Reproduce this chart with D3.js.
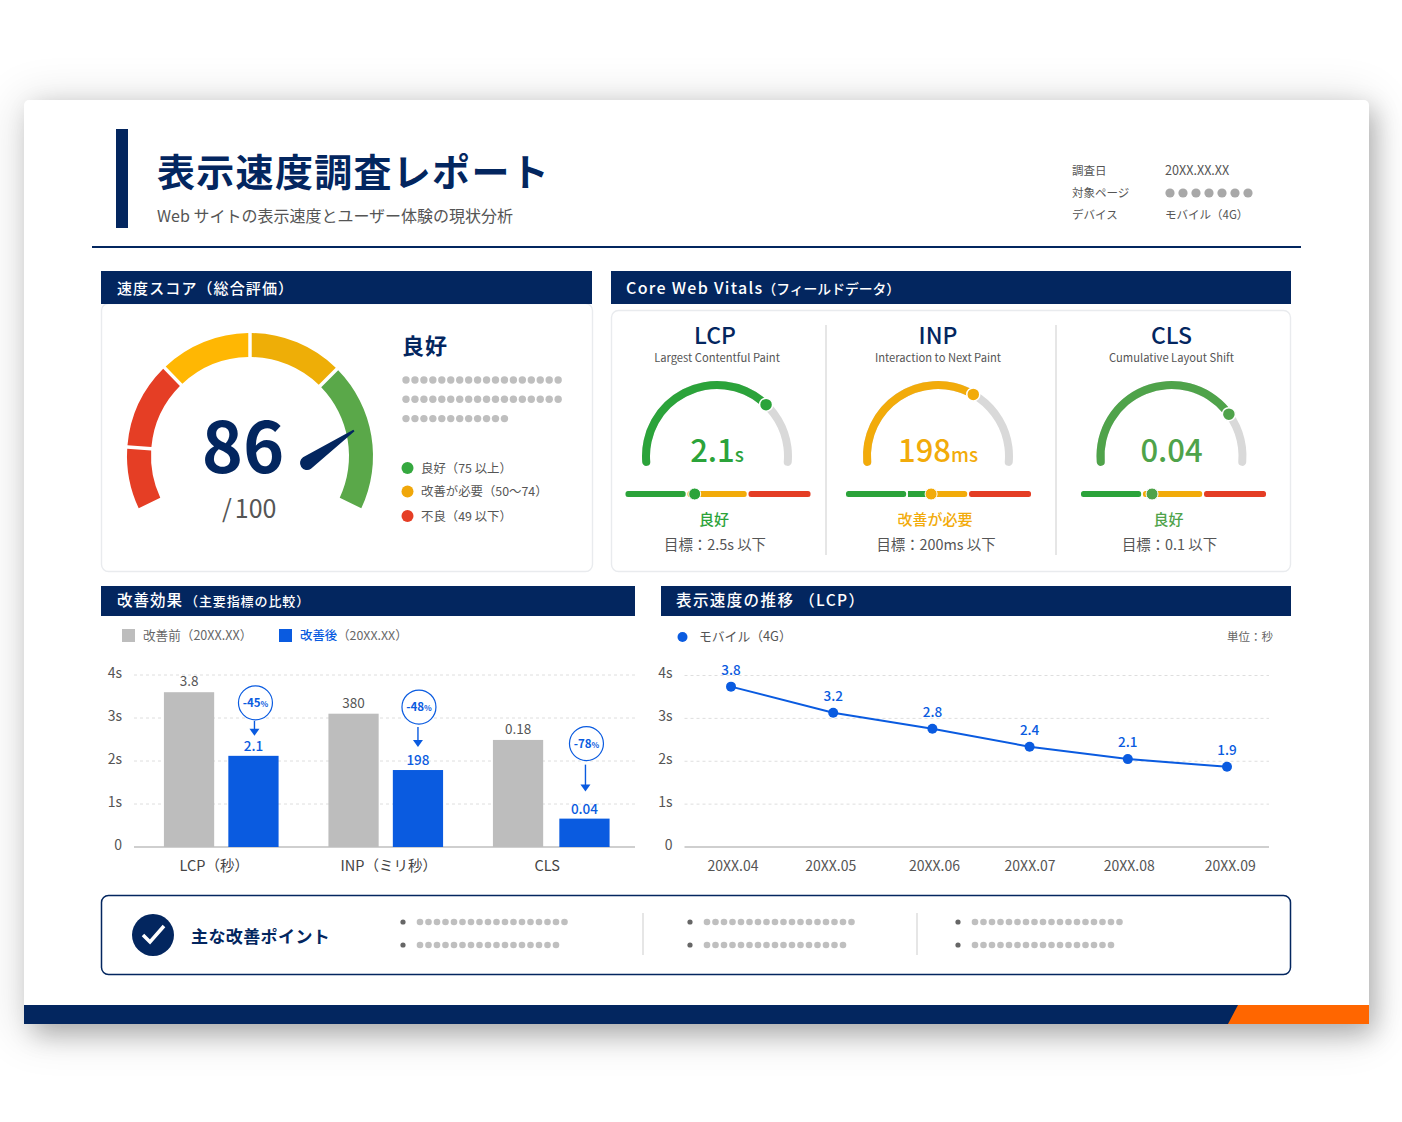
<!DOCTYPE html>
<html lang="ja"><head><meta charset="utf-8">
<script src="https://cdn.jsdelivr.net/npm/d3@7/dist/d3.min.js"></script>
<style>
html,body{margin:0;padding:0;background:#fff;width:1402px;height:1122px;overflow:hidden}
svg{display:block}
text{font-family:"Noto Sans CJK JP","Noto Sans",sans-serif}
</style></head><body><div id="chart"></div>
<script>
// ---- data ----
const title = "表示速度調査レポート";
const subtitle = "Web サイトの表示速度とユーザー体験の現状分析";
const metaLabels = ["調査日","対象ページ","デバイス"];
const metaValues = ["20XX.XX.XX",null,"モバイル（4G）"];
const score = 86;
const scoreStops = [0,13,31,50,75,100];
const scoreColors = ["#e53e25","#e53e25","#ffb703","#eeae07","#5aa849"];
const scoreLegend = ["良好（75 以上）","改善が必要（50～74）","不良（49 以下）"];
const scoreLegendColors = ["#35a83f","#f0a70a","#e53e25"];
const scoreDotRows = [18,18,12];
const cwvNames = ["LCP","INP","CLS"];
const cwvLong = ["Largest Contentful Paint","Interaction to Next Paint","Cumulative Layout Shift"];
const cwvValues = ["2.1","198","0.04"];
const cwvUnits = ["s","ms",""];
const cwvFill = [72.3,65.2,77.5];
const cwvBarPos = [37.4,46,38.4];
const cwvStatus = ["良好","改善が必要","良好"];
const cwvTargets = ["目標：2.5s 以下","目標：200ms 以下","目標：0.1 以下"];
const cwvColors = ["#2ba33a","#f2ab0a","#4fa34a"];
const barCats = ["LCP（秒）","INP（ミリ秒）","CLS"];
const barBefore = [3.6,3.1,2.49];
const barAfter = [2.12,1.79,0.66];
const beforeLabels = ["3.8","380","0.18"];
const afterLabels = ["2.1","198","0.04"];
const changes = ["-45","-48","-78"];
const lineMonths = ["20XX.04","20XX.05","20XX.06","20XX.07","20XX.08","20XX.09"];
const lineValues = [3.74,3.13,2.76,2.34,2.05,1.87];
const lineLabels = ["3.8","3.2","2.8","2.4","2.1","1.9"];
const axisTicks = [0,1,2,3,4];
const pointRows = [[18,17],[18,17],[18,17]];

// ---- layout ----
const NAVY="#03265f", BLUE="#0a5be0", GRAY="#555", DOT="#bfbfbf";
const svg=d3.select("#chart").append("svg").attr("width",1402).attr("height",1122);
const defs=svg.append("defs");
[["sh1",24],["sh2",13]].forEach(([id,s])=>{
  const f=defs.append("filter").attr("id",id).attr("x","-10%").attr("y","-15%").attr("width","120%").attr("height","130%");
  f.append("feGaussianBlur").attr("stdDeviation",s);
});
function txt(g,x,y,s,o={}){
  const t=g.append("text").attr("x",x).attr("y",y).text(s)
    .attr("font-size",o.size||12).attr("fill",o.fill||GRAY).attr("font-weight",o.weight||400)
    .attr("text-anchor",o.anchor||"start");
  if(o.ls)t.attr("letter-spacing",o.ls);
  return t;
}
function dots(g,x,y,n,step,r,c){
  g.append("g").selectAll("circle").data(d3.range(n)).join("circle")
   .attr("cx",i=>x+i*step).attr("cy",y).attr("r",r).attr("fill",c);
}
function header(x,y,w,h){svg.append("rect").attr("x",x).attr("y",y).attr("width",w).attr("height",h).attr("fill",NAVY);}
function panel(x,y,w,h){
  svg.append("rect").attr("x",x+.5).attr("y",y+.5).attr("width",w).attr("height",h).attr("rx",7)
   .attr("fill","#fff").attr("stroke","#e9ebee").attr("stroke-width",1.4);
}
// card
svg.append("rect").attr("x",20).attr("y",100).attr("width",1352).attr("height",934).attr("fill","#000").attr("opacity",.13).attr("filter","url(#sh1)");
svg.append("rect").attr("x",34).attr("y",110).attr("width",1340).attr("height",924).attr("fill","#000").attr("opacity",.26).attr("filter","url(#sh2)");
svg.append("rect").attr("x",24).attr("y",100).attr("width",1345).attr("height",924).attr("rx",5).attr("fill","#fff");
// heading
svg.append("rect").attr("x",116).attr("y",129).attr("width",12).attr("height",99).attr("fill",NAVY);
txt(svg,157,186,title,{size:38,weight:700,fill:NAVY,ls:1.3});
txt(svg,157,222,subtitle,{size:16,fill:"#555"});
svg.append("rect").attr("x",92).attr("y",246).attr("width",1209).attr("height",2).attr("fill",NAVY);
metaLabels.forEach((m,i)=>{
  const y=175+i*22;
  txt(svg,1072,y,m,{size:11.5,fill:"#555"});
  if(metaValues[i])txt(svg,1165,y,metaValues[i],{size:i?11.5:12.6,fill:"#555"});
  else dots(svg,1170,y-4,7,13,4.6,"#a8a8a8");
});

// score panel
panel(101,303,491,268);
header(101,271,491,33);
txt(svg,117,294,"速度スコア（総合評価）",{size:15,fill:"#fff",weight:500,ls:1.1});
const ang=d3.scaleLinear().domain([0,50,75,100]).range([-116,0,45,116].map(d=>d*Math.PI/180));
const gc={x:250,y:456};
const g0=svg.append("g").attr("transform",`translate(${gc.x},${gc.y})`);
const bigArc=d3.arc().innerRadius(99).outerRadius(123).padAngle(.022);
g0.selectAll("path.seg").data(scoreColors).join("path").attr("class","seg")
  .attr("d",(c,i)=>bigArc({startAngle:ang(scoreStops[i]),endAngle:ang(scoreStops[i+1])}))
  .attr("fill",c=>c);
txt(svg,243,473,String(score),{size:70,weight:600,fill:NAVY,anchor:"middle"});
const slash=txt(svg,222,518,"/",{size:25,fill:"#555"});
slash.append("tspan").attr("dx",3).text("100");
// needle
(function(){
  const a=ang(score), tip=[107*Math.sin(a),-107*Math.cos(a)], base=[57,7];
  const th=Math.atan2(tip[1]-base[1],tip[0]-base[0]), nx=-Math.sin(th), ny=Math.cos(th), w=7;
  const p=d3.path();
  p.moveTo(base[0]+nx*w,base[1]+ny*w);
  p.lineTo(tip[0]+nx*1,tip[1]+ny*1);
  p.lineTo(tip[0]-nx*1,tip[1]-ny*1);
  p.lineTo(base[0]-nx*w,base[1]-ny*w);
  p.arc(base[0],base[1],w,th-Math.PI/2,th-Math.PI*1.5,true);
  p.closePath();
  g0.append("path").attr("d",p.toString()).attr("fill",NAVY);
})();
txt(svg,402,354,"良好",{size:22,weight:700,fill:NAVY,ls:1});
scoreDotRows.forEach((n,i)=>dots(svg,406,380+i*19.3,n,8.95,3.7,DOT));
scoreLegend.forEach((s,i)=>{
  const y=[468,491.5,516][i];
  svg.append("circle").attr("cx",407.5).attr("cy",y).attr("r",6).attr("fill",scoreLegendColors[i]);
  txt(svg,421,y+4.5,s,{size:12.4,fill:"#555"});
});

// Core Web Vitals panel
panel(611,310,679,261);
header(611,271,680,33);
const h2=txt(svg,626,294,"Core Web Vitals",{size:16,fill:"#fff",weight:500,ls:1.3});
h2.append("tspan").attr("font-size",13.8).attr("letter-spacing",0).attr("dx",-1).text("（フィールドデータ）");
[826,1056].forEach(x=>svg.append("line").attr("x1",x).attr("x2",x).attr("y1",325).attr("y2",555).attr("stroke","#d5d5d5").attr("stroke-width",1.2));
const cwvCx=[717,938,1171.5], cwvBarX=[625.5,846,1081];
const fillAng=d3.scaleLinear().domain([0,100]).range([-98,98].map(d=>d*Math.PI/180));
const smallArc=d3.arc().innerRadius(67).outerRadius(75).cornerRadius(4);
const barW=d3.scaleLinear().domain([0,100]).range([0,185]);
const trackSeg=[[0,32.5,"#2ba33a"],[33.5,65.5,"#f2ab0a"],[66.5,100,"#e43d24"]];
cwvNames.forEach((n,i)=>{
  const cx=cwvCx[i], col=cwvColors[i];
  txt(svg,cx-2+(i?2:0),344,n,{size:23,weight:500,fill:NAVY,anchor:"middle"});
  txt(svg,cx,362,cwvLong[i],{size:11.2,fill:"#555",anchor:"middle"});
  const g=svg.append("g").attr("transform",`translate(${cx},456)`);
  g.append("path").attr("d",smallArc({startAngle:fillAng(0),endAngle:fillAng(100)})).attr("fill","#d9d9d9");
  g.append("path").attr("d",smallArc({startAngle:fillAng(0),endAngle:fillAng(cwvFill[i])})).attr("fill",col);
  const a=fillAng(cwvFill[i]);
  g.append("circle").attr("cx",71*Math.sin(a)).attr("cy",-71*Math.cos(a)).attr("r",6.5).attr("fill",col).attr("stroke","#fff").attr("stroke-width",1.5);
  const t=txt(svg,cx,462,cwvValues[i],{size:31,weight:500,fill:col,anchor:"middle"});
  if(cwvUnits[i])t.append("tspan").attr("font-size",19).text(cwvUnits[i]);
  const bx=cwvBarX[i];
  const bar=svg.append("g").attr("transform",`translate(${bx},491)`);
  bar.selectAll("rect").data(trackSeg).join("rect").attr("x",d=>barW(d[0])).attr("width",d=>barW(d[1]-d[0])).attr("height",6).attr("rx",2.5).attr("fill",d=>d[2]);
  if(i===1)bar.append("rect").attr("x",barW(33.5)).attr("width",barW(cwvBarPos[i]-33.5)).attr("height",6).attr("fill","#2ba33a");
  bar.append("circle").attr("cx",barW(cwvBarPos[i])).attr("cy",3).attr("r",6).attr("fill",col).attr("stroke","#fff").attr("stroke-width",1);
  txt(svg,cx-3,525,cwvStatus[i],{size:15,weight:500,fill:col,anchor:"middle"});
  txt(svg,cx-2,550,cwvTargets[i],{size:14.4,fill:"#555",anchor:"middle"});
});

// bar chart
header(101,586,534,30);
const h3=txt(svg,117,606,"改善効果",{size:15.5,fill:"#fff",weight:500,ls:1});
h3.append("tspan").attr("font-size",13).attr("letter-spacing",.9).attr("dx",2).text("（主要指標の比較）");
svg.append("rect").attr("x",122).attr("y",629).attr("width",13).attr("height",13).attr("fill","#bdbdbd");
txt(svg,143,640,"改善前（20XX.XX）",{size:12.6,fill:"#666"});
svg.append("rect").attr("x",279).attr("y",629).attr("width",13).attr("height",13).attr("fill",BLUE);
txt(svg,300,640,"改善後",{size:12.4,fill:BLUE,weight:500}).append("tspan").attr("fill","#666").attr("font-weight",400).text("（20XX.XX）");
const yB=d3.scaleLinear().domain([0,4]).range([847,675]);
const x0=d3.scaleBand().domain(barCats).range([139,632.5]).paddingInner(.303).paddingOuter(.1515);
const x1=d3.scaleBand().domain(["before","after"]).range([0,x0.bandwidth()]).paddingInner(.22);
function yAxis(y,x,right){
  const g=svg.append("g").attr("transform",`translate(${x},-2)`);
  g.call(d3.axisLeft(y).tickValues(axisTicks).tickSize(0).tickPadding(0).tickFormat(d=>d===0?"0":d+"s"));
  g.select(".domain").remove();
  g.selectAll("text").attr("font-size",14).attr("fill","#555").attr("font-family",'"Noto Sans CJK JP"');
  svg.append("g").selectAll("line").data(axisTicks.filter(d=>d>0)).join("line")
    .attr("x1",x+12).attr("x2",right).attr("y1",y).attr("y2",y)
    .attr("stroke","#dedede").attr("stroke-dasharray","3 3").attr("stroke-width",1);
  svg.append("line").attr("x1",x+12).attr("x2",right).attr("y1",y(0)).attr("y2",y(0)).attr("stroke","#cfcfcf").attr("stroke-width",2);
}
yAxis(yB,122,635);
const rise=[53,63,75], arrowTop=[18,20,21], arrowGap=[20,23,27];
barCats.forEach((c,i)=>{
  const gx=x0(c);
  const xb=gx+x1("before"), xa=gx+x1("after")+(i===2?2:0), w=x1.bandwidth();
  svg.append("rect").attr("x",xb).attr("y",yB(barBefore[i])).attr("width",w).attr("height",yB(0)-yB(barBefore[i])).attr("fill","#bdbdbd");
  const top=yB(barAfter[i]);
  svg.append("rect").attr("x",xa).attr("y",top).attr("width",w).attr("height",yB(0)-top).attr("fill",BLUE);
  txt(svg,xb+w/2,yB(barBefore[i])-6,beforeLabels[i],{size:13.5,fill:"#555",anchor:"middle"});
  txt(svg,xa+w/2,top-5,afterLabels[i],{size:13.5,weight:500,fill:BLUE,anchor:"middle"});
  const bx=xa+w/2+2-(i===1?1:0), by=top-rise[i];
  svg.append("circle").attr("cx",bx).attr("cy",by).attr("r",17).attr("fill","#fff").attr("stroke",BLUE).attr("stroke-width",1.2);
  const bt=txt(svg,bx,by+4,changes[i],{size:11.5,weight:700,fill:BLUE,anchor:"middle"});
  bt.append("tspan").attr("font-size",8).text("%");
  const ya=by+arrowTop[i], yb=top-arrowGap[i];
  svg.append("line").attr("x1",bx-1).attr("x2",bx-1).attr("y1",ya).attr("y2",yb-6).attr("stroke",BLUE).attr("stroke-width",1.4);
  svg.append("path").attr("d",d3.line()([[bx-6,yb-7],[bx+4,yb-7],[bx-1,yb]])).attr("fill",BLUE);
  txt(svg,x0(c)+x0.bandwidth()/2+[-7,3,-3][i],871,c,{size:14.5,fill:"#444",anchor:"middle"});
});

// line chart
header(661,586,630,30);
txt(svg,676,606,"表示速度の推移 （LCP）",{size:15.5,fill:"#fff",weight:500,ls:1.4});
svg.append("circle").attr("cx",682.5).attr("cy",637).attr("r",5).attr("fill",BLUE);
txt(svg,699,641,"モバイル（4G）",{size:12.8,fill:"#555"});
txt(svg,1273,641,"単位：秒",{size:11.5,fill:"#666",anchor:"end"});
const yL=d3.scaleLinear().domain([0,4]).range([847,675.5]);
const xL=d3.scalePoint().domain(lineMonths).range([731,1227]);
const pointNudge=[0,3,3,1,0,0], tickNudge=[1.5,0,4.6,1,1,2.7];
yAxis(yL,672.5,1269);
const pts=lineMonths.map((m,i)=>({m,i,v:lineValues[i],l:lineLabels[i]}));
const px=d=>xL(d.m)+pointNudge[d.i];
svg.append("path").attr("d",d3.line().x(px).y(d=>yL(d.v))(pts)).attr("fill","none").attr("stroke",BLUE).attr("stroke-width",2);
svg.append("g").selectAll("circle").data(pts).join("circle").attr("cx",px).attr("cy",d=>yL(d.v)).attr("r",5).attr("fill",BLUE);
svg.append("g").selectAll("text").data(pts).join("text").attr("x",px).attr("y",d=>yL(d.v)-12)
  .attr("text-anchor","middle").attr("font-size",13.5).attr("font-weight",500).attr("fill",BLUE).text(d=>d.l);
const xg=svg.append("g").attr("transform","translate(0,847)").call(d3.axisBottom(xL).tickSize(0).tickPadding(14));
xg.select(".domain").remove();
xg.selectAll("text").attr("font-size",14).attr("fill","#555").attr("font-family",'"Noto Sans CJK JP"').attr("dx",(d,i)=>tickNudge[i]);

// points box
svg.append("rect").attr("x",101.5).attr("y",895.5).attr("width",1189).attr("height",79).attr("rx",7).attr("fill","#fff").attr("stroke",NAVY).attr("stroke-width",1.5);
svg.append("circle").attr("cx",153).attr("cy",935).attr("r",21).attr("fill",NAVY);
svg.append("path").attr("d",d3.line()([[143,935],[150,942],[164,926]])).attr("fill","none").attr("stroke","#fff").attr("stroke-width",3.5);
txt(svg,191,943,"主な改善ポイント",{size:17,weight:700,fill:NAVY,ls:.4});
[403,690,958].forEach((bx,c)=>{
  pointRows[c].forEach((n,r)=>{
    const y=922+r*23;
    svg.append("circle").attr("cx",bx).attr("cy",y).attr("r",2.6).attr("fill","#666");
    dots(svg,bx+17,y,n,8.5,3.3,DOT);
  });
});
[643,917].forEach(x=>svg.append("line").attr("x1",x).attr("x2",x).attr("y1",913).attr("y2",955).attr("stroke","#d5d5d5").attr("stroke-width",1.2));

// footer
svg.append("rect").attr("x",24).attr("y",1005).attr("width",1345).attr("height",19).attr("fill",NAVY);
svg.append("path").attr("d",d3.line()([[1238,1005],[1369,1005],[1369,1024],[1228,1024]])).attr("fill","#ff6600");
</script></body></html>
